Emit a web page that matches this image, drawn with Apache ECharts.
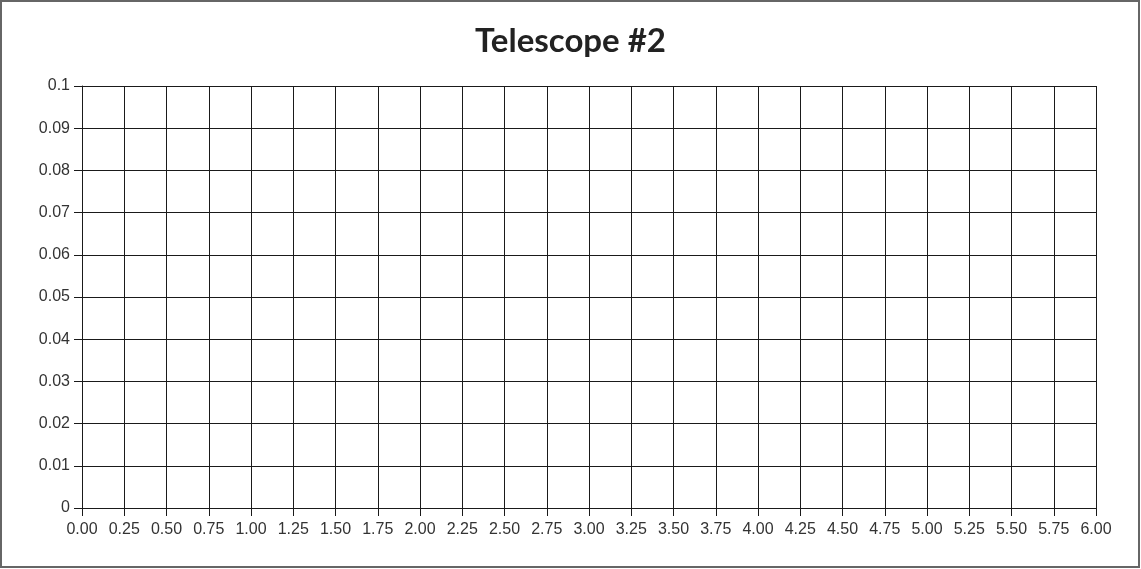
<!DOCTYPE html>
<html>
<head>
<meta charset="utf-8">
<script src="https://cdn.jsdelivr.net/npm/echarts@6/dist/echarts.min.js"></script>
<style>
html,body{margin:0;padding:0;background:#fff;}
#chart{width:1141px;height:569px;}
</style>
</head>
<body>
<div id="chart"></div>
<script>
const titleText = 'Telescope #2';
const xMin = 0, xMax = 6, xStep = 0.25;
const yMin = 0, yMax = 0.1, yStep = 0.01;
const seriesData = [];

const chart = echarts.init(document.getElementById('chart'), null, {renderer: 'canvas'});
const lineCol = '#1a1a1a';
chart.setOption({
  backgroundColor: '#fff',
  animation: false,
  title: {
    text: titleText,
    left: 'center',
    top: 20,
    textStyle: {fontFamily: 'Lato, "Open Sans", sans-serif', fontWeight: 'bold', fontSize: 33, color: '#222'}
  },
  graphic: [{
    type: 'rect',
    shape: {x: 1, y: 1, width: 1138, height: 566},
    style: {fill: 'none', stroke: '#666', lineWidth: 2},
    silent: true
  }],
  grid: {left: 82, right: 45, top: 86, bottom: 61, containLabel: false},
  xAxis: {
    type: 'value',
    min: xMin, max: xMax, interval: xStep,
    axisLine: {show: true, onZero: false, lineStyle: {color: lineCol, width: 1}},
    axisTick: {show: true, length: 8, lineStyle: {color: lineCol, width: 1}},
    splitLine: {show: true, lineStyle: {color: lineCol, width: 1}},
    axisLabel: {
      color: '#333', fontSize: 16, fontFamily: '"Liberation Sans", Arial, sans-serif', margin: 14,
      formatter: v => Number(v).toFixed(2)
    }
  },
  yAxis: {
    type: 'value',
    min: yMin, max: yMax, interval: yStep,
    axisLine: {show: true, onZero: false, lineStyle: {color: lineCol, width: 1}},
    axisTick: {show: true, length: 8, lineStyle: {color: lineCol, width: 1}},
    splitLine: {show: true, lineStyle: {color: lineCol, width: 1}},
    axisLabel: {
      color: '#333', fontSize: 16, fontFamily: '"Liberation Sans", Arial, sans-serif', margin: 12,
      formatter: v => String(parseFloat(Number(v).toFixed(2)))
    }
  },
  series: [{type: 'scatter', data: seriesData}]
});
</script>
</body>
</html>
